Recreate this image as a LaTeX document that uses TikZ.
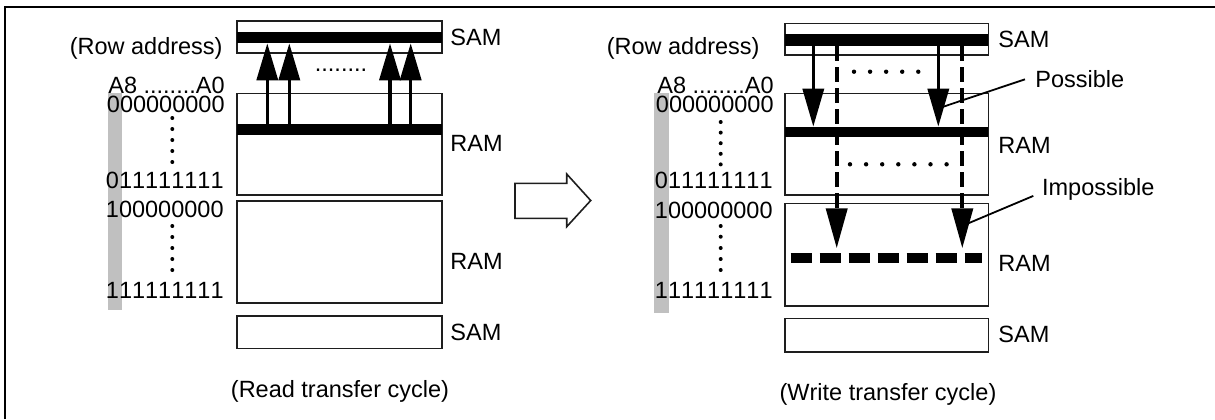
\documentclass[tikz,border=0pt]{standalone}
\usepackage{fontspec}
\setmainfont[Kerning=Off]{Liberation Sans}
\usetikzlibrary{arrows.meta,fit}
\definecolor{barg}{RGB}{192,192,192}
\definecolor{boxc}{RGB}{30,30,30}
\begin{document}
\begin{tikzpicture}[x=0.5pt,y=-0.5pt,
  lbl/.style={font=\fontsize{11.75}{14}\selectfont, inner sep=0pt},
  box/.style={draw=boxc, line width=0.8pt, inner sep=0pt},
  bar/.style={fill=black},
  upa/.style={line width=1.75pt, -{Triangle[length=18.5pt,width=10.5pt]}},
  dna/.style={line width=1.75pt, -{Triangle[length=19pt,width=10.5pt]}},
  dsh/.style={line width=2pt, dash pattern=on 7.5pt off 3pt, -{Triangle[length=20pt,width=10.5pt]}},
  leader/.style={line width=0.9pt},
  dot/.style={fill=black}
]
\useasboundingbox (0,0) rectangle (1215,419);
% frame
\draw[line width=1pt] (5,419) -- (5,7) -- (1215,7);

% ================= LEFT (read transfer) =================
\fill[barg] (108.3,93) rectangle (121.7,310);
\node[box, fit={(236.7,20.7) (441.7,52.7)}] (samA) {};
\node[box, fit={(236.7,93.3) (441.7,195)}] (ramA) {};
\node[box, fit={(236.7,200.7) (441.7,302.7)}] (ramB) {};
\node[box, fit={(236.7,316) (441.7,348.3)}] (samB) {};
\fill[bar] (236.7,32.3) rectangle (441.7,43.3);
\fill[bar] (236.7,124) rectangle (441.7,135);
\foreach \x/\n in {267.3/a,289.3/b,390/c,410.7/d}{
  \coordinate (rs\n) at (\x,124);
  \coordinate (rt\n) at (\x,43.3);
  \draw[upa] (rs\n) -- (rt\n);
}
\node[lbl] (rdots) at (341,70.7) {........};
\node[lbl, anchor=east] (rowA) at (223,48) {(Row address)};
\node[lbl, anchor=east] (adA) at (225,85.3) {A8 ........A0};
\node[lbl, anchor=east] (n1A) at (225,104.3) {000000000};
\node[lbl, anchor=east] (n2A) at (224,180) {011111111};
\node[lbl, anchor=east] (n3A) at (224,209.3) {100000000};
\node[lbl, anchor=east] (n4A) at (224,290) {111111111};
\foreach \y in {118,129,140,151,162,226,237,248,259,270}{
  \fill[dot] (172.3,\y) circle[radius=1pt];
}
\node[lbl, anchor=west] (lsamA) at (450,37.5) {SAM};
\node[lbl, anchor=west] (lramA) at (450,143) {RAM};
\node[lbl, anchor=west] (lramB) at (450,261) {RAM};
\node[lbl, anchor=west] (lsamB) at (450,332) {SAM};
\node[lbl] (capA) at (340,391.7) {(Read transfer cycle)};

% hollow arrow
\draw[line width=0.8pt, draw=boxc] (515,183.3) -- (566.7,183.3) -- (566.7,174) -- (590.7,200.5)
  -- (566.7,226.7) -- (566.7,218.3) -- (515,218.3) -- cycle;

% ================= RIGHT (write transfer) =================
\fill[barg] (654,93) rectangle (669,313.3);
\node[box, fit={(785,23.3) (988.3,55)}] (samC) {};
\node[box, fit={(785,93.3) (988.3,195)}] (ramC) {};
\node[box, fit={(785,203.3) (988.3,305.7)}] (ramD) {};
\node[box, fit={(785,318.3) (988.3,351.7)}] (samD) {};
\fill[bar] (785,34.3) rectangle (988.3,46);
\fill[bar] (785,126.7) rectangle (988.3,136.7);
\draw[line width=5pt, dash pattern=on 10.75pt off 3.75pt] (790.7,258.3) -- (982.3,258.3);
% solid arrows (possible)
\coordinate (ws1) at (813.3,46);   \coordinate (wt1) at (813.3,126.7);
\coordinate (ws2) at (938.3,46);   \coordinate (wt2) at (938.3,126.7);
\draw[dna] (ws1) -- (wt1);
\draw[dna] (ws2) -- (wt2);
% dashed arrows (impossible)
\coordinate (ds1) at (836.7,46);   \coordinate (dt1) at (836.7,248.3);
\coordinate (ds2) at (962.3,46);   \coordinate (dt2) at (962.3,248.3);
\draw[dsh] (ds1) -- (dt1);
\draw[dsh] (ds2) -- (dt2);
\foreach \i in {0,...,4}{ \fill[dot] (854+16.07*\i,71.7) circle[radius=1.1pt]; }
\foreach \i in {0,...,6}{ \fill[dot] (850+16.1*\i,164.3) circle[radius=1.1pt]; }
\node[lbl, anchor=east] (rowC) at (760,48.3) {(Row address)};
\node[lbl, anchor=east] (adC) at (774,85.3) {A8 ........A0};
\node[lbl, anchor=east] (n1C) at (774,104.3) {000000000};
\node[lbl, anchor=east] (n2C) at (773,180) {011111111};
\node[lbl, anchor=east] (n3C) at (773,210) {100000000};
\node[lbl, anchor=east] (n4C) at (773,290) {111111111};
\foreach \y in {122,132.6,143.2,153.8,164.4,226,236.7,248,259,270}{
  \fill[dot] (720.7,\y) circle[radius=1pt];
}
\node[lbl, anchor=west] (lsamC) at (998,39) {SAM};
\node[lbl, anchor=west] (lramC) at (998,145) {RAM};
\node[lbl, anchor=west] (lramD) at (998,263) {RAM};
\node[lbl, anchor=west] (lsamD) at (998,334) {SAM};
\node[lbl, anchor=west] (poss) at (1035,79.3) {Possible};
\node[lbl, anchor=west] (imp) at (1041.7,189.3) {Impossible};
\coordinate (pe) at (943.3,106.7);
\coordinate (ie) at (968.3,223.3);
\draw[leader] ([xshift=-5pt]poss.west) -- (pe);
\draw[leader] ([shift={(-4.2pt,-3.3pt)}]imp.west) -- (ie);
\node[lbl] (capC) at (888,394) {(Write transfer cycle)};
\end{tikzpicture}
\end{document}
